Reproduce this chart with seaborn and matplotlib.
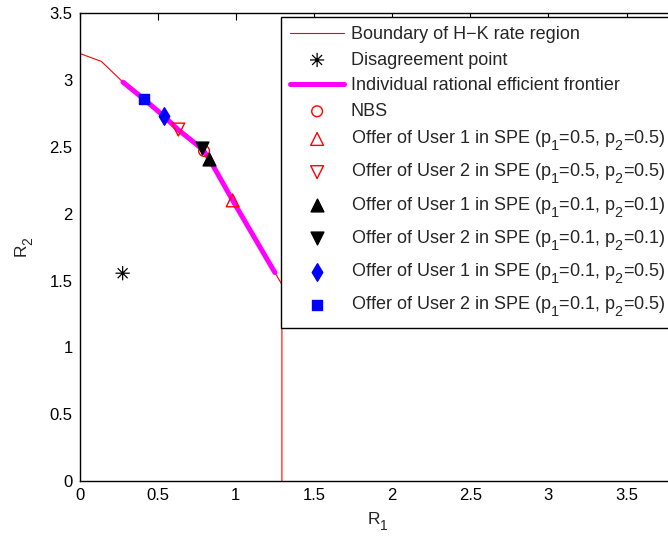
import matplotlib
matplotlib.use("Agg")
import matplotlib.pyplot as plt
import matplotlib._mathtext as _mt
from matplotlib.path import Path
import seaborn as sns
import pandas as pd

# MATLAB-like subscripts: larger and lower than matplotlib's default
_mt.SHRINK_FACTOR = 0.8
_mt.FontConstantsBase.sub1 = 0.75

# ---- data ----
boundary_r1 = [0.0, 0.14, 0.278, 0.41, 0.54, 0.63, 0.79, 0.83, 0.98, 1.25, 1.295, 1.295]
boundary_r2 = [3.2, 3.14, 2.985, 2.86, 2.73, 2.63, 2.48, 2.41, 2.10, 1.56, 1.47, 0.0]
frontier_r1 = [0.278, 0.41, 0.54, 0.63, 0.79, 0.83, 0.98, 1.25]
frontier_r2 = [2.985, 2.86, 2.73, 2.63, 2.48, 2.41, 2.10, 1.56]
disagreement = (0.276, 1.555)
nbs = (0.797, 2.47)
offer1_p55 = (0.98, 2.10)
offer2_p55 = (0.632, 2.63)
offer1_p11 = (0.829, 2.41)
offer2_p11 = (0.782, 2.49)
offer1_p15 = (0.54, 2.73)
offer2_p15 = (0.41, 2.86)

labels = [
    "Boundary of H\u2212K rate region",
    "Disagreement point",
    "Individual rational efficient frontier",
    "NBS",
    r"Offer of User 1 in SPE ($\mathregular{p_1}$=0.5, $\mathregular{p_2}$=0.5)",
    r"Offer of User 2 in SPE ($\mathregular{p_1}$=0.5, $\mathregular{p_2}$=0.5)",
    r"Offer of User 1 in SPE ($\mathregular{p_1}$=0.1, $\mathregular{p_2}$=0.1)",
    r"Offer of User 2 in SPE ($\mathregular{p_1}$=0.1, $\mathregular{p_2}$=0.1)",
    r"Offer of User 1 in SPE ($\mathregular{p_1}$=0.1, $\mathregular{p_2}$=0.5)",
    r"Offer of User 2 in SPE ($\mathregular{p_1}$=0.1, $\mathregular{p_2}$=0.5)",
]

sns.set_theme(style="white")
plt.rcParams["font.family"] = ["Liberation Sans", "DejaVu Sans"]
plt.rcParams["mathtext.fontset"] = "custom"
plt.rcParams["mathtext.rm"] = "Liberation Sans"
plt.rcParams["mathtext.it"] = "Liberation Sans"

W, H = 668, 540
fig = plt.figure(figsize=(W / 100, H / 100), dpi=100)
x0, x1 = 79.5, 676.0
y0, y1 = 481, 13.3
ax = fig.add_axes([x0 / W, 1 - y0 / H, (x1 - x0) / W, (y0 - y1) / H])

bdf = pd.DataFrame({"R1": boundary_r1, "R2": boundary_r2})
fdf = pd.DataFrame({"R1": frontier_r1, "R2": frontier_r2})

sns.lineplot(data=bdf, x="R1", y="R2", sort=False, estimator=None, ax=ax,
             color="#ff0000", linewidth=0.8, label=labels[0], zorder=2)
sns.lineplot(data=fdf, x="R1", y="R2", sort=False, estimator=None, ax=ax,
             color="#ff00ff", linewidth=3.6, label=labels[2], zorder=3)

ast = Path([(0, -1), (0, 1), (-1, 0), (1, 0), (-0.7, -0.7), (0.7, 0.7), (-0.7, 0.7), (0.7, -0.7)],
           [Path.MOVETO, Path.LINETO] * 4)

def pt(p, label, marker, s, face, edge, lw=1.0):
    sns.scatterplot(x=[p[0]], y=[p[1]], ax=ax, marker=marker, s=s,
                    facecolor=face, edgecolor=edge, linewidth=lw, label=label, zorder=4)

pt(disagreement, labels[1], ast, 105, "none", "black", 0.9)
pt(nbs, labels[3], "o", 60, "none", "red", 1.0)
pt(offer1_p55, labels[4], "^", 85, "none", "red", 1.0)
pt(offer2_p55, labels[5], "v", 85, "none", "red", 1.0)
pt(offer1_p11, labels[6], "^", 85, "black", "black", 1.0)
pt(offer2_p11, labels[7], "v", 85, "black", "black", 1.0)
pt(offer1_p15, labels[8], "d", 80, "blue", "blue", 1.0)
pt(offer2_p15, labels[9], "s", 45, "blue", "blue", 1.0)

ax.set_xlim(0, (x1 - x0) / 156.3)
ax.set_ylim(0, 3.5)
ax.set_xticks([0, 0.5, 1, 1.5, 2, 2.5, 3, 3.5])
ax.set_xticklabels(["0", "0.5", "1", "1.5", "2", "2.5", "3", "3.5"])
ax.set_yticks([0, 0.5, 1, 1.5, 2, 2.5, 3, 3.5])
ax.set_yticklabels(["0", "0.5", "1", "1.5", "2", "2.5", "3", "3.5"])
ax.tick_params(direction="in", length=5, width=0.8, top=True, right=True,
               labelsize=12, colors="black", pad=5)
for s in ax.spines.values():
    s.set_visible(True)
    s.set_color("black")
    s.set_linewidth(1.0)
ax.set_xlabel(r"$\mathregular{R_1}$", fontsize=12.5, labelpad=5)
ax.set_ylabel(r"$\mathregular{R_2}$", fontsize=12.5, labelpad=10)

handles, labs = ax.get_legend_handles_labels()
order = [labs.index(l) for l in labels]
leg = ax.legend([handles[i] for i in order], [labs[i] for i in order],
                loc="upper left", bbox_to_anchor=(281 / W, 1 - 17 / H),
                bbox_transform=fig.transFigure, borderaxespad=0,
                frameon=True, fancybox=False, framealpha=1, edgecolor="black",
                fontsize=13, handlelength=3.0, handletextpad=0.35,
                labelspacing=0.48, borderpad=0.5, scatterpoints=1)
leg.get_frame().set_linewidth(1.0)

fig.savefig("out.png", dpi=100)
